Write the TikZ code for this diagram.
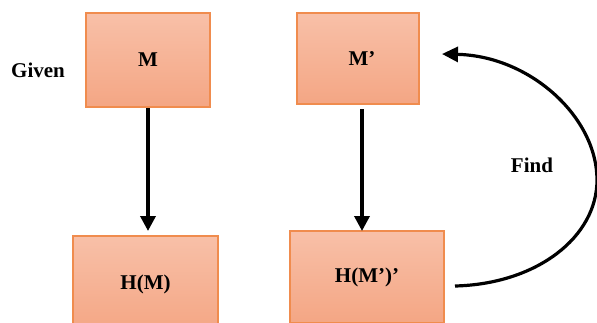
\documentclass[tikz,border=0pt]{standalone}
\usepackage{fontspec}
\setmainfont{Liberation Serif}
\usetikzlibrary{arrows.meta}
\definecolor{boxtop}{RGB}{248,192,168}
\definecolor{boxbot}{RGB}{244,166,132}
\definecolor{boxline}{RGB}{240,140,78}
\tikzset{
  box/.style={draw=boxline, line width=1.2pt, top color=boxtop, bottom color=boxbot, inner sep=0pt, font=\fontsize{21}{24}\selectfont\bfseries},
  lbl/.style={inner sep=0pt, font=\fontsize{21}{24}\selectfont\bfseries},
  conn/.style={line width=3.5pt, -{Triangle[length=15pt, width=15pt]}}
}
\begin{document}
\begin{tikzpicture}[x=1pt, y=1pt]
\useasboundingbox (0,0) rectangle (597,322);
\node[box, minimum width=124pt, minimum height=94pt] (m) at (148,262) {M};
\node[box, minimum width=145pt, minimum height=96pt] (hm) at (145.5,38) {H(M)};
\node[box, minimum width=122pt, minimum height=91pt] (mp) at (358,263.5) {\hspace*{8pt}M’};
\node[box, minimum width=154pt, minimum height=92pt] (hmp) at (367,45) {H(M’)’};
\node[lbl] (given) at (38,252) {Given};
\node[lbl] (find) at (532,157) {Find};
\coordinate (a1s) at (148,214);
\coordinate (a1e) at (148,91);
\coordinate (a2s) at (362,213);
\coordinate (a2e) at (362,91);
\draw[conn] (a1s) -- (a1e);
\draw[conn] (a2s) -- (a2e);
\coordinate (cs) at (455,36);
\coordinate (cm) at (597,142);
\coordinate (ce) at (442,268);
\draw[line width=3.2pt, -{Triangle[length=16pt, width=15pt]}] (cs) .. controls (537,38) and (597,85) .. (cm) .. controls (597,205) and (530,266) .. (ce);
\end{tikzpicture}
\end{document}
